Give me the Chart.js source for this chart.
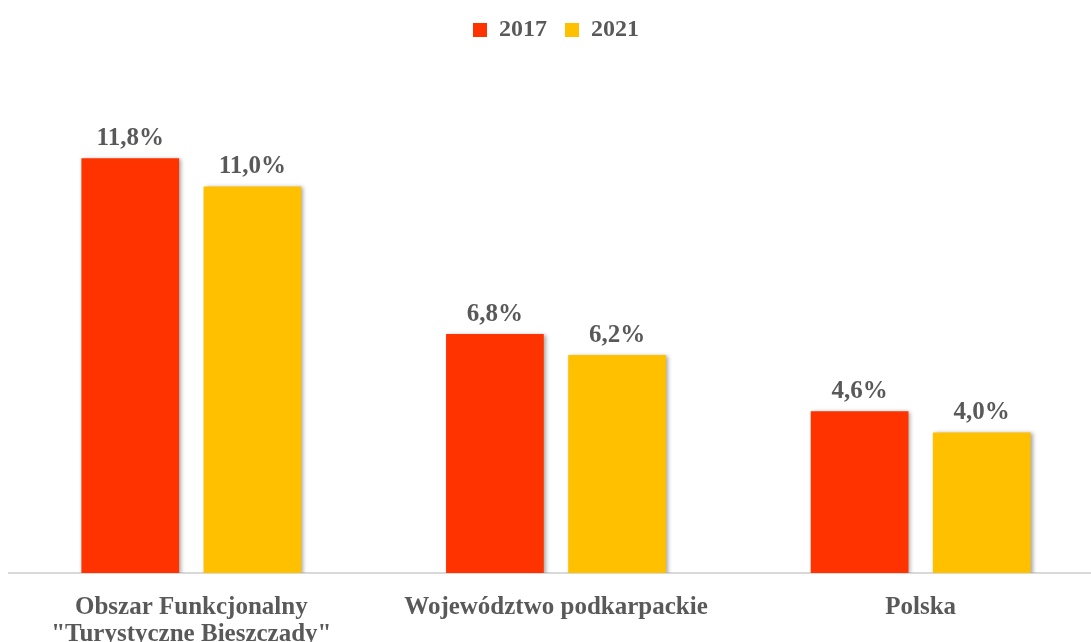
<!DOCTYPE html>
<html lang="pl">
<head>
<meta charset="utf-8">
<title>2017 / 2021</title>
<script src="https://cdn.jsdelivr.net/npm/chart.js@4.4.1/dist/chart.umd.min.js"></script>
<style>
    html, body {
        margin: 0;
        padding: 0;
        background: #ffffff;
        overflow: hidden;
    }
    #wrap {
        position: relative;
        width: 1091px;
        height: 642px;
        overflow: hidden;
    }
    #wrap canvas {
        position: absolute;
        left: 0;
        top: 0;
    }
</style>
</head>
<body>
<div id="wrap">
    <canvas id="barChart" width="1110" height="684"></canvas>
</div>
<script>
// Data
const categories = [
    ['Obszar Funkcjonalny', '"Turystyczne Bieszczady"'],
    'Województwo podkarpackie',
    'Polska'
];
const seriesLabels = ['2017', '2021'];
const values2017 = [11.8, 6.8, 4.6];
const values2021 = [11.0, 6.2, 4.0];

const textColor = '#595959';
const fontFamily = "'Liberation Serif', 'Times New Roman', serif";

// Format 11.8 -> "11,8%"
function formatValue(v) {
    return v.toFixed(1).replace('.', ',') + '%';
}

// Soft drop shadow under the bars
const barShadow = {
    id: 'barShadow',
    beforeDatasetDraw(chart) {
        const ctx = chart.ctx;
        ctx.save();
        ctx.shadowColor = 'rgba(0, 0, 0, 0.35)';
        ctx.shadowBlur = 4;
        ctx.shadowOffsetX = 2;
        ctx.shadowOffsetY = 1;
    },
    afterDatasetDraw(chart) {
        chart.ctx.restore();
    }
};

// Value labels above each bar
const valueLabels = {
    id: 'valueLabels',
    afterDatasetsDraw(chart) {
        const ctx = chart.ctx;
        ctx.save();
        ctx.font = 'bold 25px ' + fontFamily;
        ctx.fillStyle = textColor;
        ctx.textAlign = 'center';
        ctx.textBaseline = 'alphabetic';
        chart.data.datasets.forEach(function(ds, i) {
            const meta = chart.getDatasetMeta(i);
            meta.data.forEach(function(bar, j) {
                ctx.fillText(formatValue(ds.data[j]), bar.x, bar.y - 13);
            });
        });
        ctx.restore();
    }
};

// Extra gap between legend and plot
const legendGap = {
    id: 'legendGap',
    beforeInit(chart) {
        const origFit = chart.legend.fit;
        chart.legend.fit = function() {
            origFit.bind(chart.legend)();
            this.height += 29;
        };
    }
};

const ctx = document.getElementById('barChart').getContext('2d');
const barChart = new Chart(ctx, {
    type: 'bar',
    data: {
        labels: categories,
        datasets: [
            {
                label: seriesLabels[0],
                data: values2017,
                backgroundColor: '#FF3300',
                categoryPercentage: 0.67,
                barPercentage: 0.8
            },
            {
                label: seriesLabels[1],
                data: values2021,
                backgroundColor: '#FFC000',
                categoryPercentage: 0.67,
                barPercentage: 0.8
            }
        ]
    },
    options: {
        responsive: false,
        animation: false,
        layout: {
            padding: { left: 9, right: 7, top: 0, bottom: 15 }
        },
        plugins: {
            legend: {
                position: 'top',
                labels: {
                    boxWidth: 14,
                    boxHeight: 14,
                    padding: 18,
                    color: textColor,
                    font: { family: fontFamily, size: 24, weight: 'bold' }
                }
            },
            tooltip: { enabled: false }
        },
        scales: {
            x: {
                grid: { display: false, drawTicks: false },
                border: { display: true, color: '#d9d9d9', width: 2 },
                ticks: {
                    color: textColor,
                    padding: 21,
                    maxRotation: 0,
                    autoSkip: false,
                    font: { family: fontFamily, size: 25, weight: 'bold', lineHeight: 1.08 }
                }
            },
            y: {
                display: false,
                min: 0,
                max: 14
            }
        }
    },
    plugins: [barShadow, valueLabels, legendGap]
});
</script>
</body>
</html>
